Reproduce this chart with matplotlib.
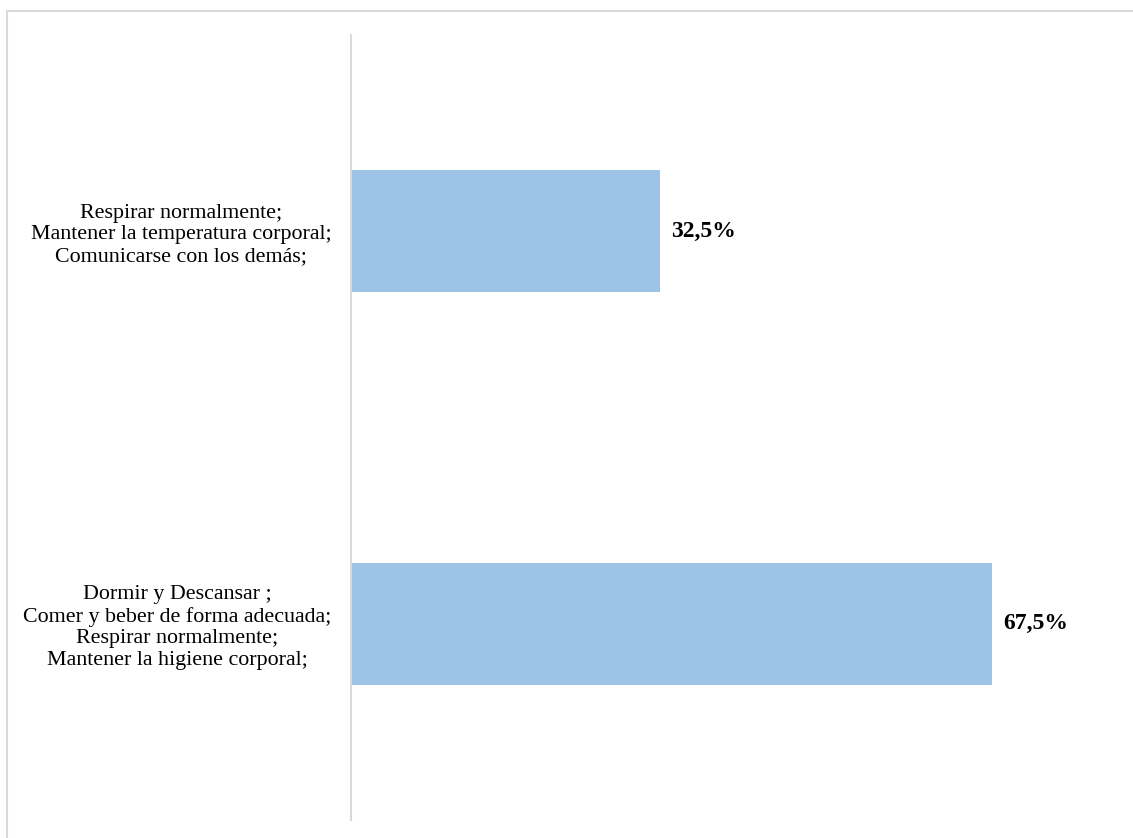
import matplotlib.pyplot as plt
from matplotlib.patches import Rectangle

# data
categories = [
    "Dormir y Descansar ;\nComer y beber de forma adecuada;\nRespirar normalmente;\nMantener la higiene corporal;",
    "Respirar normalmente;\nMantener la temperatura corporal;\nComunicarse con los demás;",
]
values = [67.5, 32.5]
value_labels = ["67,5%", "32,5%"]

plt.rcParams['font.family'] = ['Liberation Serif', 'DejaVu Serif']

fig = plt.figure(figsize=(11.33, 8.38), dpi=100)
ax = fig.add_axes([351/1133, 1 - 820/838, (1111 - 351)/1133, (820 - 35)/838])

y = list(range(len(categories)))
ax.barh(y, values, height=0.31, color="#9DC3E6")
for yi, v, lab in zip(y, values, value_labels):
    ax.text(v + 1.2, yi, lab, va="center", ha="left", fontsize=17, fontweight="bold")

ax.set_xlim(0, 80)
ax.set_ylim(-0.5, 1.5)
ax.set_yticks(y)
ax.set_yticklabels(categories, fontsize=15.8, multialignment="center", linespacing=1.17)
ax.tick_params(axis="y", length=0, pad=14)
ax.set_xticks([])
for s in ["top", "right", "bottom"]:
    ax.spines[s].set_visible(False)
ax.spines["left"].set_color("#D9D9D9")
ax.spines["left"].set_linewidth(1.5)

# outer frame
fig.patches.append(Rectangle((7/1133, -0.1), 1.2, 1 - 11/838 + 0.1, transform=fig.transFigure,
                             fill=False, edgecolor="#D9D9D9", linewidth=1.5))

fig.savefig("out.png", dpi=100)
